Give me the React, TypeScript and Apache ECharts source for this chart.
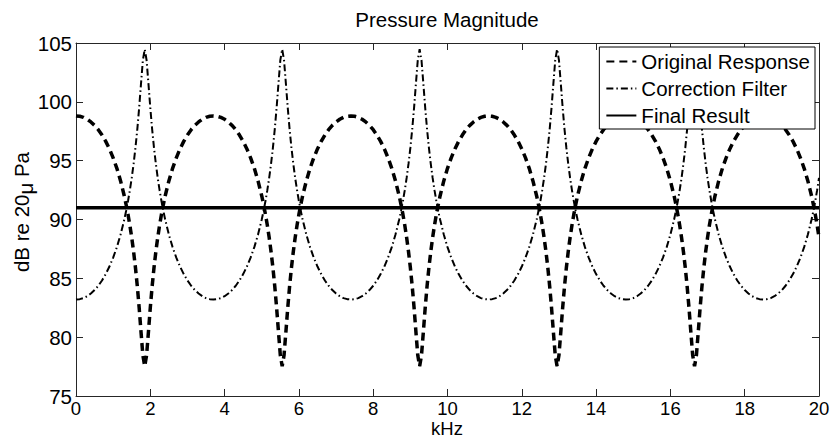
import React, { useEffect, useRef } from "react";
import * as echarts from "echarts";

const FONT = "'Liberation Sans', Arial, Helvetica, sans-serif";

const seriesNames = ["Original Response", "Correction Filter", "Final Result"];
const xTicks = { min: 0, max: 20, interval: 2 };
const yTicks = { min: 75, max: 105, interval: 5 };

// frequency samples (kHz)
const freqKHz = [
  0, 0.1, 0.2, 0.3, 0.4, 0.5, 0.6, 0.7, 0.8, 0.9, 1.0, 1.1, 1.2, 1.3, 1.35, 1.4, 1.45, 1.5, 1.55, 1.6, 1.65, 1.7, 1.75, 1.8, 1.85, 1.9, 1.95, 2.0, 2.05, 2.1, 2.15, 2.2, 2.25, 2.3, 2.35, 2.4, 2.5, 2.6, 2.7, 2.8, 2.9, 3.0, 3.1, 3.2, 3.3, 3.4, 3.5, 3.6,
  3.7, 3.8, 3.9, 4.0, 4.1, 4.2, 4.3, 4.4, 4.5, 4.6, 4.7, 4.8, 4.9, 5.0, 5.05, 5.1, 5.15, 5.2, 5.25, 5.3, 5.35, 5.4, 5.45, 5.5, 5.55, 5.6, 5.65, 5.7, 5.75, 5.8, 5.85, 5.9, 5.95, 6.0, 6.05, 6.1, 6.2, 6.3, 6.4, 6.5, 6.6, 6.7, 6.8, 6.9, 7.0, 7.1, 7.2, 7.3,
  7.4, 7.5, 7.6, 7.7, 7.8, 7.9, 8.0, 8.1, 8.2, 8.3, 8.4, 8.5, 8.6, 8.7, 8.75, 8.8, 8.85, 8.9, 8.95, 9.0, 9.05, 9.1, 9.15, 9.2, 9.25, 9.3, 9.35, 9.4, 9.45, 9.5, 9.55, 9.6, 9.65, 9.7, 9.75, 9.8, 9.9, 10.0, 10.1, 10.2, 10.3, 10.4, 10.5, 10.6, 10.7, 10.8, 10.9, 11.0,
  11.1, 11.2, 11.3, 11.4, 11.5, 11.6, 11.7, 11.8, 11.9, 12.0, 12.1, 12.2, 12.3, 12.4, 12.45, 12.5, 12.55, 12.6, 12.65, 12.7, 12.75, 12.8, 12.85, 12.9, 12.95, 13.0, 13.05, 13.1, 13.15, 13.2, 13.25, 13.3, 13.35, 13.4, 13.45, 13.5, 13.6, 13.7, 13.8, 13.9, 14.0, 14.1, 14.2, 14.3, 14.4, 14.5, 14.6, 14.7,
  14.8, 14.9, 15.0, 15.1, 15.2, 15.3, 15.4, 15.5, 15.6, 15.7, 15.8, 15.9, 16.0, 16.1, 16.15, 16.2, 16.25, 16.3, 16.35, 16.4, 16.45, 16.5, 16.55, 16.6, 16.65, 16.7, 16.75, 16.8, 16.85, 16.9, 16.95, 17.0, 17.05, 17.1, 17.15, 17.2, 17.3, 17.4, 17.5, 17.6, 17.7, 17.8, 17.9, 18.0, 18.1, 18.2, 18.3, 18.4,
  18.5, 18.6, 18.7, 18.8, 18.9, 19.0, 19.1, 19.2, 19.3, 19.4, 19.5, 19.6, 19.7, 19.8, 19.85, 19.9, 19.95, 20.0,
];

// dB re 20 µPa
const originalResponse = [
  98.80, 98.77, 98.68, 98.52, 98.29, 98.00, 97.63, 97.18, 96.64, 96.00, 95.24, 94.35, 93.28, 92.00, 91.25, 90.43, 89.51, 88.47, 87.28, 85.92, 84.34, 82.51, 80.45, 78.46, 77.53, 78.46, 80.45, 82.51, 84.34, 85.92, 87.28, 88.47, 89.51, 90.43, 91.25, 92.00, 93.28, 94.35, 95.24, 96.00, 96.64, 97.18, 97.63, 98.00, 98.29, 98.52, 98.68, 98.77,
  98.80, 98.77, 98.68, 98.52, 98.29, 98.00, 97.63, 97.18, 96.64, 96.00, 95.24, 94.35, 93.28, 92.00, 91.25, 90.43, 89.51, 88.47, 87.28, 85.92, 84.34, 82.51, 80.45, 78.46, 77.53, 78.46, 80.45, 82.51, 84.34, 85.92, 87.28, 88.47, 89.51, 90.43, 91.25, 92.00, 93.28, 94.35, 95.24, 96.00, 96.64, 97.18, 97.63, 98.00, 98.29, 98.52, 98.68, 98.77,
  98.80, 98.77, 98.68, 98.52, 98.29, 98.00, 97.63, 97.18, 96.64, 96.00, 95.24, 94.35, 93.28, 92.00, 91.25, 90.43, 89.51, 88.47, 87.28, 85.92, 84.34, 82.51, 80.45, 78.46, 77.53, 78.46, 80.45, 82.51, 84.34, 85.92, 87.28, 88.47, 89.51, 90.43, 91.25, 92.00, 93.28, 94.35, 95.24, 96.00, 96.64, 97.18, 97.63, 98.00, 98.29, 98.52, 98.68, 98.77,
  98.80, 98.77, 98.68, 98.52, 98.29, 98.00, 97.63, 97.18, 96.64, 96.00, 95.24, 94.35, 93.28, 92.00, 91.25, 90.43, 89.51, 88.47, 87.28, 85.92, 84.34, 82.51, 80.45, 78.46, 77.53, 78.46, 80.45, 82.51, 84.34, 85.92, 87.28, 88.47, 89.51, 90.43, 91.25, 92.00, 93.28, 94.35, 95.24, 96.00, 96.64, 97.18, 97.63, 98.00, 98.29, 98.52, 98.68, 98.77,
  98.80, 98.77, 98.68, 98.52, 98.29, 98.00, 97.63, 97.18, 96.64, 96.00, 95.24, 94.35, 93.28, 92.00, 91.25, 90.43, 89.51, 88.47, 87.28, 85.92, 84.34, 82.51, 80.45, 78.46, 77.53, 78.46, 80.45, 82.51, 84.34, 85.92, 87.28, 88.47, 89.51, 90.43, 91.25, 92.00, 93.28, 94.35, 95.24, 96.00, 96.64, 97.18, 97.63, 98.00, 98.29, 98.52, 98.68, 98.77,
  98.80, 98.77, 98.68, 98.52, 98.29, 98.00, 97.63, 97.18, 96.64, 96.00, 95.24, 94.35, 93.28, 92.00, 91.25, 90.43, 89.51, 88.47,
];

const correctionFilter = [
  83.20, 83.23, 83.32, 83.48, 83.71, 84.00, 84.37, 84.82, 85.36, 86.00, 86.76, 87.65, 88.72, 90.00, 90.75, 91.57, 92.49, 93.53, 94.72, 96.08, 97.66, 99.49, 101.55, 103.54, 104.47, 103.54, 101.55, 99.49, 97.66, 96.08, 94.72, 93.53, 92.49, 91.57, 90.75, 90.00, 88.72, 87.65, 86.76, 86.00, 85.36, 84.82, 84.37, 84.00, 83.71, 83.48, 83.32, 83.23,
  83.20, 83.23, 83.32, 83.48, 83.71, 84.00, 84.37, 84.82, 85.36, 86.00, 86.76, 87.65, 88.72, 90.00, 90.75, 91.57, 92.49, 93.53, 94.72, 96.08, 97.66, 99.49, 101.55, 103.54, 104.47, 103.54, 101.55, 99.49, 97.66, 96.08, 94.72, 93.53, 92.49, 91.57, 90.75, 90.00, 88.72, 87.65, 86.76, 86.00, 85.36, 84.82, 84.37, 84.00, 83.71, 83.48, 83.32, 83.23,
  83.20, 83.23, 83.32, 83.48, 83.71, 84.00, 84.37, 84.82, 85.36, 86.00, 86.76, 87.65, 88.72, 90.00, 90.75, 91.57, 92.49, 93.53, 94.72, 96.08, 97.66, 99.49, 101.55, 103.54, 104.47, 103.54, 101.55, 99.49, 97.66, 96.08, 94.72, 93.53, 92.49, 91.57, 90.75, 90.00, 88.72, 87.65, 86.76, 86.00, 85.36, 84.82, 84.37, 84.00, 83.71, 83.48, 83.32, 83.23,
  83.20, 83.23, 83.32, 83.48, 83.71, 84.00, 84.37, 84.82, 85.36, 86.00, 86.76, 87.65, 88.72, 90.00, 90.75, 91.57, 92.49, 93.53, 94.72, 96.08, 97.66, 99.49, 101.55, 103.54, 104.47, 103.54, 101.55, 99.49, 97.66, 96.08, 94.72, 93.53, 92.49, 91.57, 90.75, 90.00, 88.72, 87.65, 86.76, 86.00, 85.36, 84.82, 84.37, 84.00, 83.71, 83.48, 83.32, 83.23,
  83.20, 83.23, 83.32, 83.48, 83.71, 84.00, 84.37, 84.82, 85.36, 86.00, 86.76, 87.65, 88.72, 90.00, 90.75, 91.57, 92.49, 93.53, 94.72, 96.08, 97.66, 99.49, 101.55, 103.54, 104.47, 103.54, 101.55, 99.49, 97.66, 96.08, 94.72, 93.53, 92.49, 91.57, 90.75, 90.00, 88.72, 87.65, 86.76, 86.00, 85.36, 84.82, 84.37, 84.00, 83.71, 83.48, 83.32, 83.23,
  83.20, 83.23, 83.32, 83.48, 83.71, 84.00, 84.37, 84.82, 85.36, 86.00, 86.76, 87.65, 88.72, 90.00, 90.75, 91.57, 92.49, 93.53,
];

const finalFreqKHz = [0, 20];
const finalResult = [91, 91];

function pairs(xs: number[], ys: number[]) {
  return xs.map((x, i) => [x, ys[i]]);
}

const axisLineStyle = { color: "#262626", width: 1 };
const FS = 20.5;
const FSX = 18.5;

export default function App() {
  const ref = useRef<HTMLDivElement>(null);

  useEffect(() => {
    if (!ref.current) return;
    const chart = echarts.init(ref.current, null, { renderer: "svg" });
    const baseX = {
      type: "value" as const,
      min: xTicks.min,
      max: xTicks.max,
      interval: xTicks.interval,
      splitLine: { show: false },
      axisLine: { show: true, onZero: false, lineStyle: axisLineStyle },
      axisTick: { show: true, inside: true, length: 7, lineStyle: axisLineStyle },
    };
    const baseY = {
      type: "value" as const,
      min: yTicks.min,
      max: yTicks.max,
      interval: yTicks.interval,
      splitLine: { show: false },
      axisLine: { show: true, onZero: false, lineStyle: axisLineStyle },
      axisTick: { show: true, inside: true, length: 7, lineStyle: axisLineStyle },
    };
    chart.setOption({
      animation: false,
      backgroundColor: "#fff",
      textStyle: { fontFamily: FONT },
      grid: { left: 76, right: 11, top: 43, bottom: 43, containLabel: false, outerBoundsMode: "none" },
      graphic: [
        {
          type: "text",
          x: 447,
          y: 19,
          style: {
            text: "Pressure Magnitude",
            align: "center",
            verticalAlign: "middle",
            fontSize: FS,
            fontFamily: FONT,
            fill: "#000",
          },
        },
        {
          type: "text",
          x: 447,
          y: 418,
          style: {
            text: "kHz",
            align: "center",
            verticalAlign: "top",
            fontSize: FSX,
            lineHeight: 20,
            fontFamily: FONT,
            fill: "#000",
          },
        },
        {
          type: "text",
          x: 21,
          y: 212,
          rotation: Math.PI / 2,
          style: {
            text: "dB re 20{mu|μ} Pa",
            align: "center",
            verticalAlign: "middle",
            fontSize: FS,
            fontFamily: FONT,
            fill: "#000",
            rich: {
              mu: { fontSize: FS, fontFamily: FONT, fill: "#000", verticalAlign: "bottom", lineHeight: 30 },
            },
          },
        },
      ],
      legend: {
        orient: "vertical",
        right: 15,
        top: 47,
        data: seriesNames,
        selectedMode: false,
        backgroundColor: "#fff",
        borderColor: "#000",
        borderWidth: 1,
        borderRadius: 0,
        padding: [4, 5, 3, 6],
        itemWidth: 30,
        itemHeight: 14,
        itemGap: 6,
        itemStyle: { color: "rgba(0,0,0,0)", borderColor: "rgba(0,0,0,0)", borderWidth: 0, opacity: 0 },
        textStyle: { fontSize: FS, color: "#000", fontFamily: FONT, lineHeight: 21 },
      },
      xAxis: [
        {
          ...baseX,
          position: "bottom",
          axisLabel: { show: true, color: "#000", fontSize: FSX, lineHeight: 20, margin: 2, fontFamily: FONT },
        },
        { ...baseX, position: "top", axisLabel: { show: false } },
      ],
      yAxis: [
        {
          ...baseY,
          position: "left",
          axisLabel: { show: true, color: "#000", fontSize: FS, margin: 4, fontFamily: FONT },
        },
        { ...baseY, position: "right", axisLabel: { show: false } },
      ],
      series: [
        {
          name: seriesNames[0],
          type: "line",
          xAxisIndex: 0,
          yAxisIndex: 0,
          symbol: "none",
          showSymbol: false,
          data: pairs(freqKHz, originalResponse),
          lineStyle: { color: "#000", width: 3.5, type: [8, 5] },
          itemStyle: { color: "#000" },
        },
        {
          name: seriesNames[1],
          type: "line",
          xAxisIndex: 0,
          yAxisIndex: 0,
          symbol: "none",
          showSymbol: false,
          data: pairs(freqKHz, correctionFilter),
          lineStyle: { color: "#000", width: 2, type: [7, 3, 1.5, 3] },
          itemStyle: { color: "#000" },
        },
        {
          name: seriesNames[2],
          type: "line",
          xAxisIndex: 0,
          yAxisIndex: 0,
          symbol: "none",
          showSymbol: false,
          data: pairs(finalFreqKHz, finalResult),
          lineStyle: { color: "#000", width: 3.5, type: "solid" },
          itemStyle: { color: "#000" },
        },
      ],
    });
    return () => chart.dispose();
  }, []);

  return (
    <div
      ref={ref}
      style={{ position: "fixed", left: 0, top: 0, width: 830, height: 439, background: "#fff" }}
    />
  );
}
